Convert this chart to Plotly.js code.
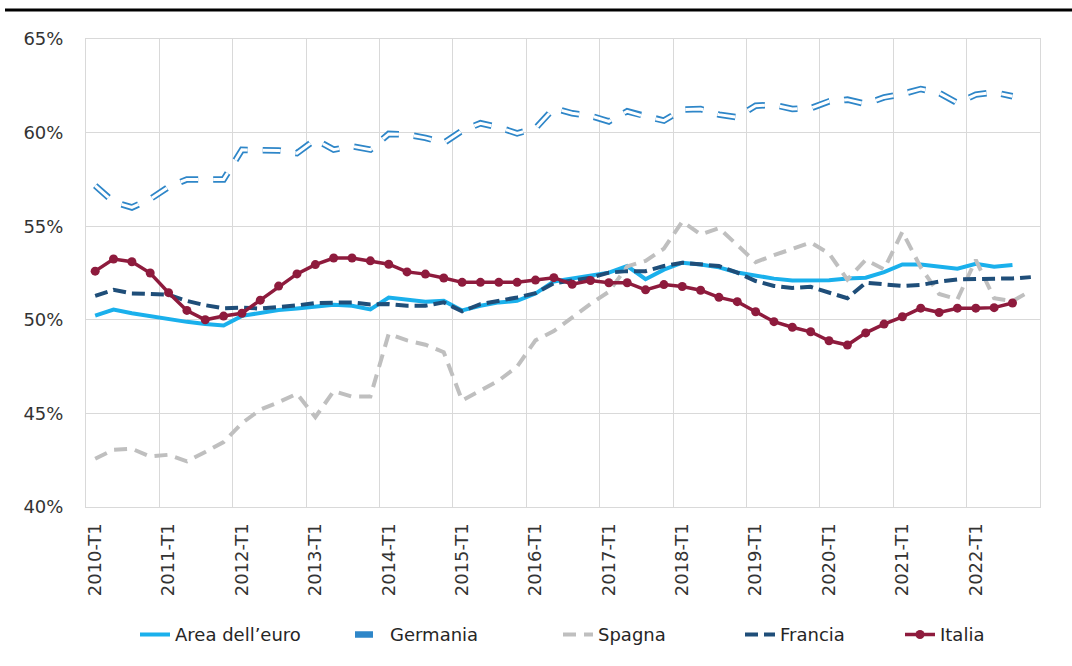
<!DOCTYPE html>
<html>
<head>
<meta charset="utf-8">
<script src="https://cdn.plot.ly/plotly-3.0.1.min.js"></script>
<style>
  html, body { margin: 0; padding: 0; background: #ffffff; }
  #chart { width: 1072px; height: 666px; }
</style>
</head>
<body>
<div id="chart"></div>
<script>
// Quarters 2010-T1 .. 2022-T4
const years = [2010, 2011, 2012, 2013, 2014, 2015, 2016, 2017, 2018, 2019, 2020, 2021, 2022];
const quarterSuffix = ["T1", "T2", "T3", "T4"];
const quarters = [];
years.forEach(y => quarterSuffix.forEach(q => quarters.push(y + "-" + q)));

// Values (%)
const areaEuro = [50.22, 50.55, 50.35, 50.18, 50.05, 49.89, 49.77, 49.70, 50.21, 50.39, 50.52, 50.60,
  50.69, 50.80, 50.75, 50.55, 51.19, 51.05, 50.96, 51.01, 50.50, 50.75, 50.93, 51.01,
  51.40, 52.05, 52.21, 52.34, 52.52, 52.87, 52.17, 52.68, 53.05, 52.95, 52.80, 52.53,
  52.36, 52.20, 52.10, 52.13, 52.11, 52.20, 52.25, 52.55, 52.96, 52.96, 52.82, 52.73,
  52.99, 52.84, 52.93, null];

const germania = [57.17, 56.30, 56.00, 56.45, 57.10, 57.50, 57.50, 57.50, 59.08, 59.08, 59.05, 58.90,
  59.63, 59.09, 59.27, 59.09, 59.93, 59.90, 59.72, 59.45, 60.10, 60.50, 60.28, 59.96,
  60.23, 61.30, 61.03, 60.90, 60.60, 61.14, 60.85, 60.64, 61.23, 61.26, 60.96, 60.82,
  61.44, 61.48, 61.26, 61.30, 61.67, 61.76, 61.53, 61.88, 62.06, 62.33, 62.12, 61.58,
  62.03, 62.15, 61.94, null];

const spagna = [42.58, 43.06, 43.11, 42.70, 42.79, 42.44, 42.94, 43.47, 44.48, 45.20, 45.60, 46.05,
  44.80, 46.19, 45.90, 45.90, 49.25, 48.90, 48.67, 48.27, 45.69, 46.23, 46.76, 47.50,
  48.90, 49.40, 50.15, 50.85, 51.50, 52.85, 53.15, 53.80, 55.25, 54.56, 54.90, 54.00,
  53.08, 53.45, 53.80, 54.13, 53.55, 52.15, 53.20, 52.70, 54.70, 52.80, 51.38, 51.10,
  53.20, 51.15, 51.00, 51.55];

const francia = [51.28, 51.60, 51.41, 51.40, 51.34, 51.01, 50.78, 50.62, 50.65, 50.60, 50.68, 50.77,
  50.90, 50.93, 50.93, 50.82, 50.84, 50.75, 50.75, 50.93, 50.45, 50.84, 51.01, 51.19,
  51.42, 51.95, 52.10, 52.25, 52.52, 52.60, 52.60, 52.87, 53.05, 52.96, 52.87, 52.52,
  52.07, 51.81, 51.70, 51.76, 51.46, 51.15, 51.98, 51.90, 51.81, 51.86, 52.04, 52.16,
  52.16, 52.18, 52.21, 52.28];

const italia = [52.60, 53.25, 53.10, 52.50, 51.45, 50.50, 50.00, 50.20, 50.35, 51.05, 51.80, 52.45,
  52.95, 53.30, 53.30, 53.15, 52.97, 52.56, 52.44, 52.23, 52.00, 52.00, 52.00, 52.00,
  52.12, 52.25, 51.90, 52.10, 51.98, 51.98, 51.60, 51.88, 51.78, 51.58, 51.20, 50.97,
  50.43, 49.90, 49.60, 49.36, 48.88, 48.65, 49.30, 49.77, 50.16, 50.62, 50.39, 50.62,
  50.62, 50.65, 50.90, null];

const seriesNames = ["Area dell\u2019euro", "Germania", "Spagna", "Francia", "Italia"];
const yTicks = [40, 45, 50, 55, 60, 65];

// positions: category index
const xIdx = quarters.map((q, i) => i);
const labelIdx = xIdx.filter(i => quarters[i].endsWith("T1"));
const labelText = labelIdx.map(i => quarters[i]);
const boundaryIdx = labelIdx.map(i => i - 0.5).concat([quarters.length - 0.5]);

const traces = [
  { x: xIdx, y: areaEuro, name: seriesNames[0], type: "scatter", mode: "lines", legend: "legend",
    line: { color: "#1AB0EC", width: 4 } },
  { x: xIdx, y: germania, name: seriesNames[1], type: "scatter", mode: "lines", legend: "legend2",
    line: { color: "#2E86C8", width: 6.5, dash: "18px,15px" } },
  { x: xIdx, y: germania, name: seriesNames[1], type: "scatter", mode: "lines",
    showlegend: false, hoverinfo: "skip",
    line: { color: "#ffffff", width: 3, dash: "18px,15px" } },
  { x: xIdx, y: spagna, name: seriesNames[2], type: "scatter", mode: "lines", legend: "legend3",
    line: { color: "#BFBFBF", width: 4, dash: "13px,8px" } },
  { x: xIdx, y: francia, name: seriesNames[3], type: "scatter", mode: "lines", legend: "legend4",
    line: { color: "#1F4E79", width: 4, dash: "13px,6px" } },
  { x: xIdx, y: italia, name: seriesNames[4], type: "scatter", mode: "lines+markers", legend: "legend5",
    line: { color: "#8E1B3D", width: 3.5 },
    marker: { color: "#8E1B3D", size: 9, symbol: "circle" } }
];

const gridColor = "#D9D9D9";
const plotLeft = 86, plotW = 954;
const legendFont = { family: "'DejaVu Sans', Verdana, sans-serif", size: 18, color: "#262626" };
// left pixel of each legend entry's text
const legendTextStart = [175, 390, 598, 780, 940];
function legendAt(px) {
  return { orientation: "h", x: (px - 40 - plotLeft) / plotW, xanchor: "left",
           y: -0.273, yanchor: "middle", font: legendFont, bgcolor: "rgba(0,0,0,0)", borderwidth: 0 };
}

const layout = {
  width: 1072, height: 666,
  paper_bgcolor: "#ffffff", plot_bgcolor: "#ffffff",
  margin: { l: 86, r: 32, t: 39, b: 159 },
  showlegend: true,
  legend: legendAt(legendTextStart[0]),
  legend2: legendAt(legendTextStart[1]),
  legend3: legendAt(legendTextStart[2]),
  legend4: legendAt(legendTextStart[3]),
  legend5: legendAt(legendTextStart[4]),
  xaxis: {
    type: "linear", range: [-0.5, quarters.length - 0.5],
    tickmode: "array", tickvals: labelIdx, ticktext: labelText,
    tickangle: -90, showgrid: false, zeroline: false,
    showline: true, mirror: true, linecolor: gridColor, linewidth: 1,
    ticks: "", ticklabelstandoff: 8, automargin: false,
    tickfont: { family: "'DejaVu Sans', Verdana, sans-serif", size: 18, color: "#333333" },
    minor: { tickmode: "array", tickvals: boundaryIdx, showgrid: true, gridcolor: gridColor, gridwidth: 1, ticks: "" }
  },
  yaxis: {
    range: [40, 65], tickmode: "array", tickvals: yTicks,
    ticktext: yTicks.map(v => v + "%"),
    showgrid: true, gridcolor: gridColor, gridwidth: 1, zeroline: false,
    showline: true, mirror: true, linecolor: gridColor, linewidth: 1,
    ticks: "", ticklabelstandoff: 18, automargin: false,
    tickfont: { family: "'DejaVu Sans', Verdana, sans-serif", size: 18, color: "#333333" }
  },
  shapes: [
    { type: "line", xref: "paper", yref: "paper",
      x0: -81 / 954, x1: 986 / 954, y0: 497 / 468, y1: 497 / 468,
      line: { color: "#000000", width: 3 } }
  ]
};

Plotly.newPlot("chart", traces, layout, { displayModeBar: false, staticPlot: true });
</script>
</body>
</html>
